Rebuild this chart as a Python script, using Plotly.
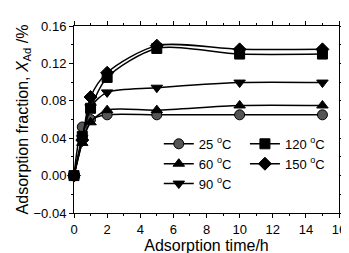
import plotly.graph_objects as go

time_h = [0, 0.5, 1, 2, 5, 10, 15]
s25 = [0, 0.052, 0.060, 0.065, 0.065, 0.065, 0.065]
s60 = [0, 0.035, 0.057, 0.070, 0.070, 0.075, 0.075]
s90 = [0, 0.040, 0.073, 0.089, 0.094, 0.0995, 0.0995]
s120 = [0, 0.042, 0.072, 0.105, 0.136, 0.130, 0.130]
s150 = [0, 0.038, 0.084, 0.110, 0.139, 0.135, 0.135]

series = [
    ("25 <sup>o</sup>C", s25, "circle", "#555555", "legend"),
    ("60 <sup>o</sup>C", s60, "triangle-up", "black", "legend"),
    ("90 <sup>o</sup>C", s90, "triangle-down", "black", "legend"),
    ("120 <sup>o</sup>C", s120, "square", "black", "legend2"),
    ("150 <sup>o</sup>C", s150, "diamond", "black", "legend2"),
]

fig = go.Figure()
for name, ys, sym, col, leg in series:
    fig.add_trace(go.Scatter(
        x=time_h, y=ys, name=name, mode="lines+markers", legend=leg,
        line=dict(color="black", width=1.5, shape="spline", smoothing=0.8),
        marker=dict(symbol=sym, size=10, color=col, line=dict(color="black", width=1)),
        cliponaxis=False,
    ))

font = dict(family="Liberation Sans, Arial, sans-serif", size=13, color="black")
legcommon = dict(orientation="v", yanchor="top", xanchor="left", bgcolor="rgba(0,0,0,0)",
                 font=dict(size=13), tracegroupgap=0)
fig.update_layout(
    width=349, height=253,
    margin=dict(l=66, r=13, t=11, b=46),
    plot_bgcolor="white", paper_bgcolor="white",
    font=font,
    showlegend=True,
    legend=dict(x=0.32, y=0.45, **legcommon),
    legend2=dict(x=0.645, y=0.45, **legcommon),
)
fig.update_xaxes(
    range=[0, 16], dtick=2, showline=True, linecolor="black", linewidth=1,
    mirror="ticks", ticks="outside", ticklen=4, tickcolor="black",
    minor=dict(dtick=1, ticks="outside", ticklen=2, tickcolor="black"),
    showgrid=False, zeroline=False,
    title=dict(text="Adsorption time/h", standoff=2),
)
fig.update_yaxes(
    range=[-0.04, 0.16], dtick=0.04, tickformat=".2f", showline=True, linecolor="black", linewidth=1,
    mirror="ticks", ticks="outside", ticklen=4, tickcolor="black",
    minor=dict(dtick=0.02, ticks="outside", ticklen=2, tickcolor="black"),
    showgrid=False, zeroline=False,
    title=dict(text="Adsorption fraction, <i>X</i><sub>Ad</sub> /%", standoff=0),
)
fig.write_html("out.html")
